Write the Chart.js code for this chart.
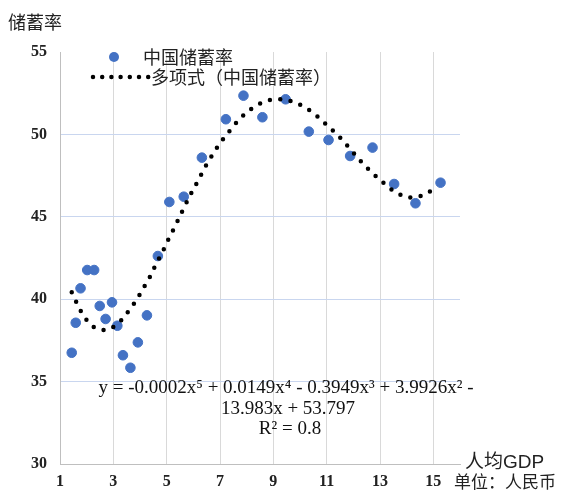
<!DOCTYPE html>
<html lang="zh">
    <head>
        <meta charset="utf-8" />
        <script src="https://cdnjs.cloudflare.com/ajax/libs/Chart.js/4.4.1/chart.umd.min.js"></script>
        <title>储蓄率</title>
        <style>
            body { margin: 0; background: #fff; }
            canvas { display: block; }
        </style>
    </head>
    <body>
        <canvas id="grafico" width="564" height="499"></canvas>
        <script>
            // datos
            const gdp = [1.44, 1.59, 1.77, 2.02, 2.28, 2.49, 2.71, 2.95, 3.15, 3.36, 3.64, 3.92, 4.26, 4.67,
                         5.1, 5.64, 6.32, 7.22, 7.88, 8.59, 9.46, 10.33, 11.07, 11.88, 12.72, 13.53, 14.33, 15.27];
            const ahorro = [36.75, 38.57, 40.66, 41.77, 41.77, 39.59, 38.8, 39.81, 38.39, 36.6, 35.84, 37.38, 39.02, 42.62,
                            45.9, 46.22, 48.59, 50.92, 52.35, 51.04, 52.13, 50.17, 49.66, 48.69, 49.2, 46.99, 45.82, 47.07];
            // línea de tendencia (puntos leídos sobre la curva punteada)
            const tendX = [1.44, 1.78, 2.0, 2.28, 2.65, 3.05, 3.34, 3.57, 3.8, 4.02, 4.21, 4.41, 4.57, 4.76, 4.94, 5.1,
                           5.29, 5.47, 5.64, 5.81, 6.0, 6.19, 6.37, 6.56, 6.77, 6.98, 7.22, 7.46, 7.72, 8.01, 8.34,
                           8.69, 9.06, 9.46, 9.85, 10.18, 10.51, 10.83, 11.11, 11.41, 11.67, 11.94, 12.19, 12.47,
                           12.75, 13.04, 13.34, 13.66, 14.06, 14.43, 14.81, 15.09];
            const tendY = [40.42, 39.28, 38.74, 38.3, 38.13, 38.37, 38.8, 39.28, 39.79, 40.36, 40.9, 41.47, 42.03, 42.62,
                           43.19, 43.75, 44.34, 44.95, 45.52, 46.08, 46.67, 47.23, 47.8, 48.35, 48.89, 49.42, 49.92,
                           50.41, 50.9, 51.34, 51.73, 51.99, 52.13, 52.09, 51.9, 51.64, 51.28, 50.83, 50.41, 49.96,
                           49.5, 49.01, 48.53, 48.04, 47.6, 47.19, 46.77, 46.43, 46.18, 46.22, 46.46, 46.87];
            const xTicks = [1, 3, 5, 7, 9, 11, 13, 15];
            const yTicks = [30, 35, 40, 45, 50, 55];
            const nombreSerie = "中国储蓄率";
            const nombreTend = "多项式（中国储蓄率）";
            const ecuacion = ["y = -0.0002x⁵ + 0.0149x⁴ - 0.3949x³ + 3.9926x² -", "13.983x + 53.797", "R² = 0.8"];

            const azul = "#4472c4";

            const textos = {
                id: "textos",
                afterDraw(chart) {
                    const ctx = chart.ctx;
                    ctx.save();
                    ctx.textBaseline = "middle";
                    ctx.fillStyle = "#222";

                    ctx.font = '18px "Noto Sans CJK SC"';
                    ctx.textAlign = "left";
                    ctx.fillText("储蓄率", 8, 22);

                    ctx.font = '19px "Liberation Sans", "Noto Sans CJK SC"';
                    ctx.fillText("人均GDP", 465, 463);
                    ctx.font = '17px "Noto Sans CJK SC"';
                    ctx.fillText("单位：人民币", 454, 482);

                    // leyenda
                    ctx.font = '18px "Noto Sans CJK SC"';
                    ctx.fillText(nombreSerie, 143, 57);
                    ctx.fillText(nombreTend, 151, 77);
                    ctx.fillStyle = azul;
                    ctx.beginPath();
                    ctx.arc(114, 57, 5, 0, Math.PI * 2);
                    ctx.fill();
                    ctx.strokeStyle = "#000";
                    ctx.lineWidth = 4.5;
                    ctx.lineCap = "round";
                    ctx.setLineDash([0, 9.2]);
                    ctx.beginPath();
                    ctx.moveTo(93, 77);
                    ctx.lineTo(149, 77);
                    ctx.stroke();

                    // ecuación
                    ctx.fillStyle = "#111";
                    ctx.textAlign = "center";
                    ctx.font = '19px "Liberation Serif", "DejaVu Serif"';
                    ctx.fillText(ecuacion[0], 286, 388);
                    ctx.fillText(ecuacion[1], 288, 409);
                    ctx.fillText(ecuacion[2], 290, 429);
                    ctx.restore();
                }
            };

            new Chart(document.querySelector("#grafico").getContext("2d"), {
                type: "scatter",
                data: {
                    datasets: [
                        {
                            label: nombreTend,
                            data: tendX.map((x, i) => ({ x: x, y: tendY[i] })),
                            showLine: true,
                            borderColor: "#000",
                            borderWidth: 4.5,
                            borderCapStyle: "round",
                            borderDash: [0, 10.4],
                            tension: 0.4,
                            pointRadius: 0
                        },
                        {
                            label: nombreSerie,
                            data: gdp.map((x, i) => ({ x: x, y: ahorro[i] })),
                            backgroundColor: azul,
                            borderColor: azul,
                            pointRadius: 4.8,
                            pointHoverRadius: 4.8
                        }
                    ]
                },
                options: {
                    responsive: false,
                    animation: false,
                    layout: { padding: { left: 0, top: 52, right: 104, bottom: 0 } },
                    scales: {
                        x: {
                            min: 1,
                            max: 16,
                            afterBuildTicks: (eje) => { eje.ticks = xTicks.map((v) => ({ value: v })); },
                            afterFit: (eje) => { eje.height = 35; },
                            border: { color: "#bfbfbf" },
                            grid: { color: "#d9d9d9", drawTicks: false },
                            ticks: {
                                padding: 8,
                                color: "#222",
                                font: { family: "Liberation Serif", size: 16, weight: "bold" }
                            }
                        },
                        y: {
                            min: 30,
                            max: 55,
                            afterBuildTicks: (eje) => { eje.ticks = yTicks.map((v) => ({ value: v })); },
                            afterFit: (eje) => { eje.width = 60; },
                            border: { color: "#bfbfbf" },
                            grid: {
                                drawTicks: false,
                                color: (c) => c.tick.value === 55 ? "rgba(0,0,0,0)" : (c.tick.value === 30 ? "#bfbfbf" : "#c9d6ef")
                            },
                            ticks: {
                                padding: 13,
                                color: "#222",
                                font: { family: "Liberation Serif", size: 16, weight: "bold" }
                            }
                        }
                    },
                    plugins: {
                        legend: { display: false },
                        tooltip: { enabled: false }
                    }
                },
                plugins: [textos]
            });
        </script>
    </body>
</html>
